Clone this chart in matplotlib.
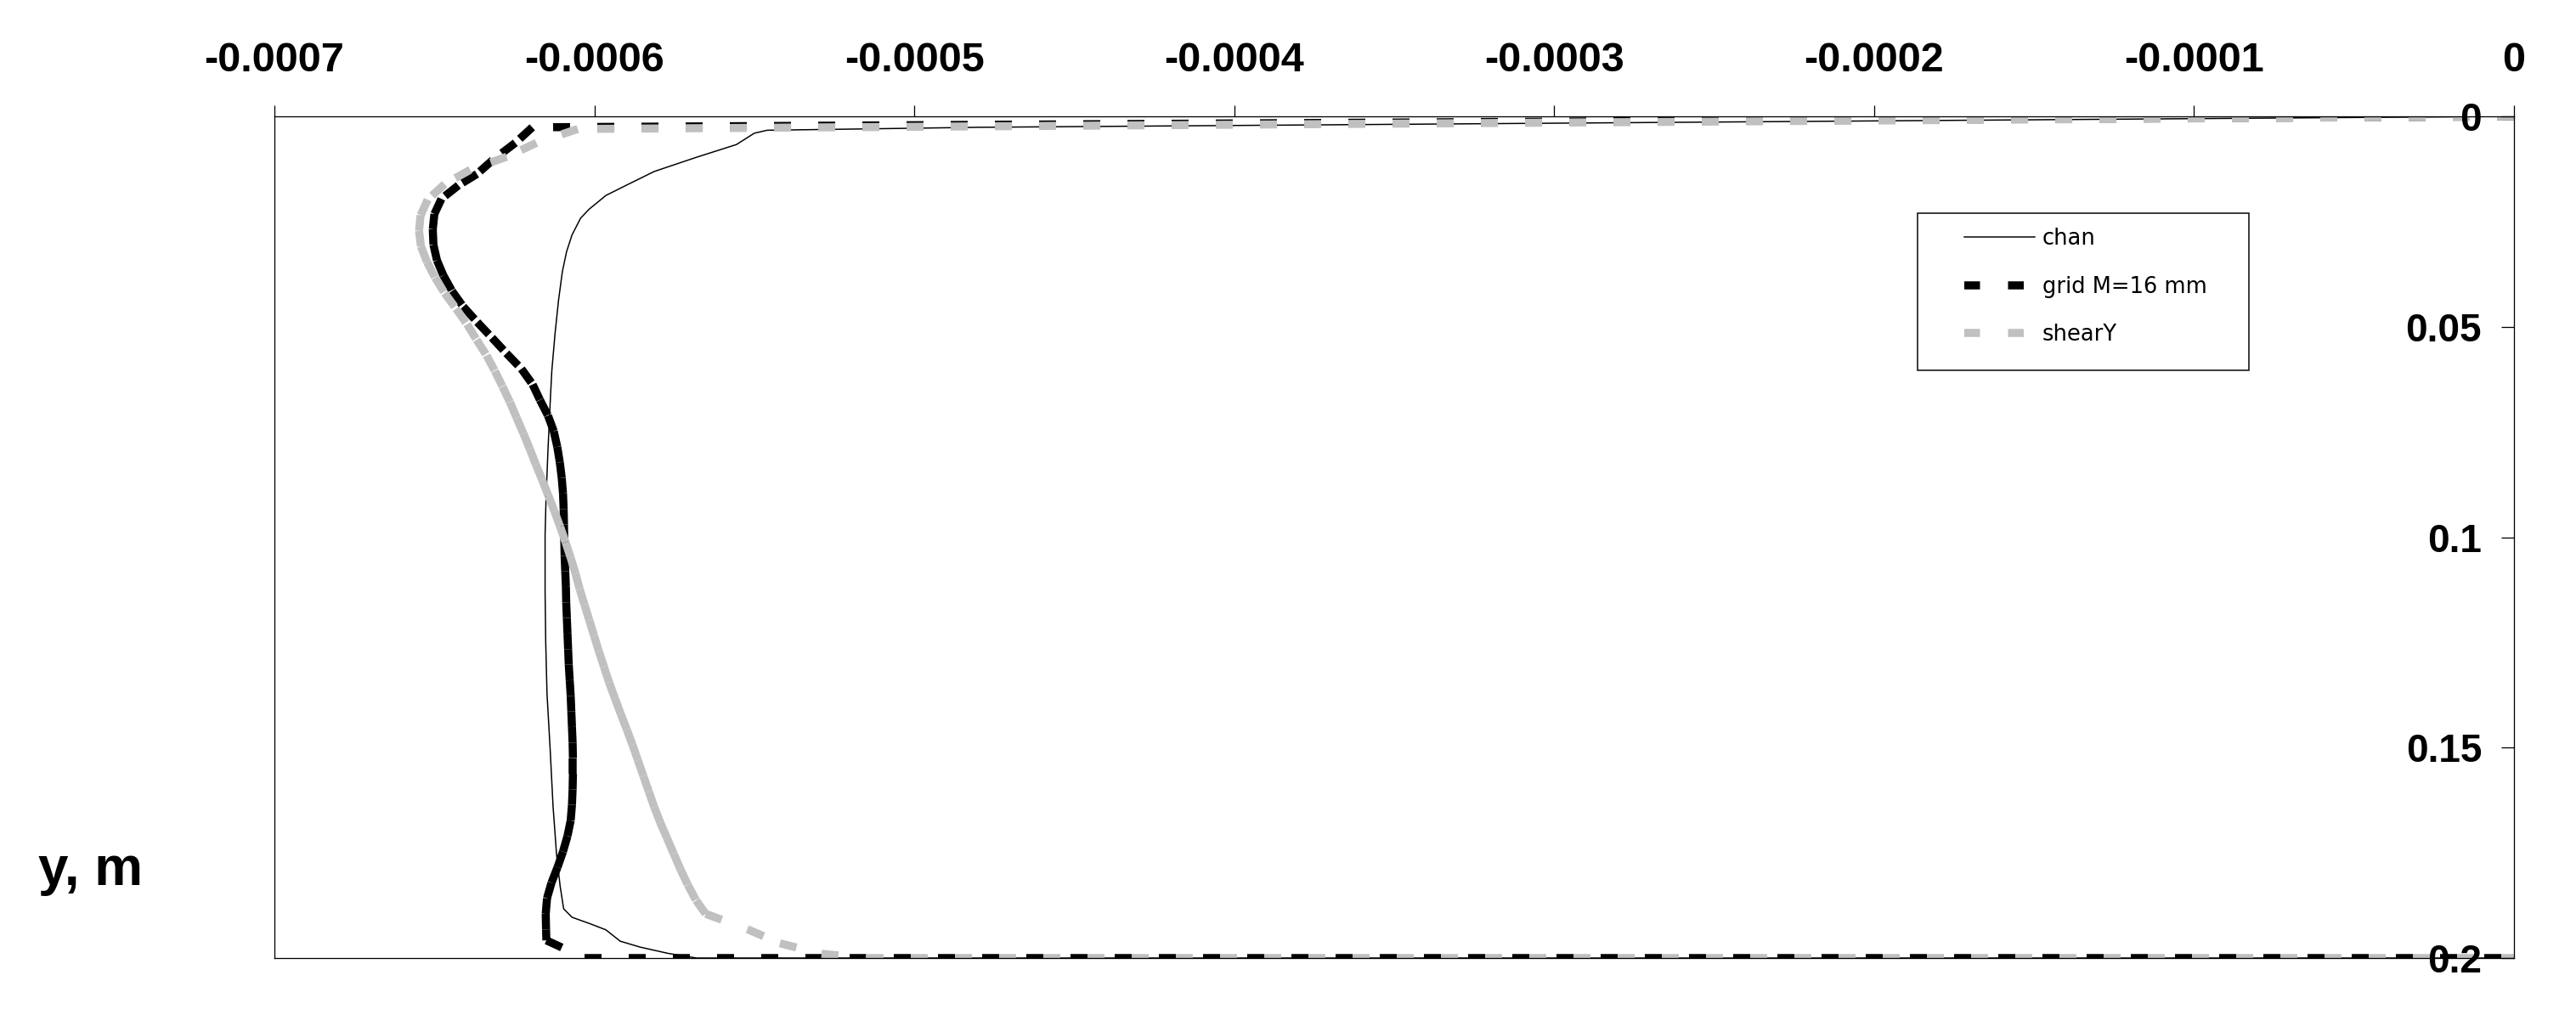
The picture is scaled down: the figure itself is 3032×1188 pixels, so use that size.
import numpy as np
import matplotlib
matplotlib.use('Agg')
import matplotlib.pyplot as plt
from matplotlib.collections import LineCollection
from matplotlib.lines import Line2D
from matplotlib.patches import Rectangle

plt.rcParams['lines.scale_dashes'] = False

# ---------------- data ----------------
series_names = ['chan', 'grid M=16 mm', 'shearY']

chan_y = [0.0, 0.0026, 0.0030, 0.0033, 0.0040, 0.0067, 0.0097, 0.0131, 0.0161,
          0.0188, 0.0221, 0.0242, 0.0282, 0.0322, 0.0369, 0.0437, 0.0517, 0.0605,
          0.0679, 0.0793, 0.0908, 0.0995, 0.1130, 0.1250, 0.1372, 0.1506, 0.1641,
          0.1755, 0.1829, 0.1883, 0.1903, 0.1920, 0.1933, 0.1960, 0.1974, 0.1989,
          0.2000, 0.2000]
chan_x = [0.0, -0.000480, -0.000517, -0.000546, -0.000550, -0.0005556, -0.000568,
          -0.0005813, -0.0005893, -0.0005964, -0.0006017, -0.0006043, -0.000607,
          -0.0006087, -0.000610, -0.0006112, -0.0006123, -0.0006133, -0.0006138,
          -0.0006145, -0.0006151, -0.0006154, -0.0006154, -0.0006152, -0.0006148,
          -0.0006138, -0.0006129, -0.0006118, -0.0006107, -0.0006096, -0.000607,
          -0.0006008, -0.0005964, -0.0005919, -0.0005857, -0.0005769, -0.000568, 0.0]

grid_y = [0.0, 0.0026, 0.0063, 0.0104, 0.0137, 0.0164, 0.0196, 0.0232, 0.0268,
          0.0305, 0.0342, 0.0378, 0.0415, 0.0452, 0.0489, 0.0526, 0.0563, 0.0600,
          0.0637, 0.0674, 0.0711, 0.0748, 0.0785, 0.0822, 0.0859, 0.0896, 0.0933,
          0.0970, 0.1007, 0.1044, 0.1081, 0.1118, 0.1155, 0.1192, 0.1229, 0.1266,
          0.1303, 0.1340, 0.1377, 0.1414, 0.1451, 0.1488, 0.1525, 0.1562, 0.1599,
          0.1636, 0.1673, 0.1710, 0.1747, 0.1784, 0.1821, 0.1858, 0.1895, 0.1932,
          0.1958, 0.2000, 0.2000]
grid_x = [0.0, -0.0006194, -0.0006247, -0.0006318, -0.0006367, -0.0006425,
          -0.0006478, -0.0006500, -0.0006505, -0.0006503, -0.0006492, -0.0006472,
          -0.0006445, -0.0006410, -0.0006366, -0.0006320, -0.0006275, -0.0006228,
          -0.0006193, -0.0006170, -0.0006145, -0.0006127, -0.0006116, -0.0006108,
          -0.0006102, -0.0006098, -0.0006096, -0.0006095, -0.0006094, -0.0006093,
          -0.0006091, -0.0006089, -0.0006088, -0.0006086, -0.0006084, -0.0006082,
          -0.0006080, -0.0006077, -0.0006074, -0.0006072, -0.0006070, -0.0006068,
          -0.0006067, -0.0006067, -0.0006068, -0.0006070, -0.0006074, -0.0006084,
          -0.0006098, -0.0006115, -0.0006134, -0.0006148, -0.0006152, -0.0006151,
          -0.0006150, -0.0006030, 0.0]

shear_y = [0.0, 0.0030, 0.0063, 0.0096, 0.0127, 0.0161, 0.0198, 0.0235, 0.0272,
           0.0309, 0.0346, 0.0383, 0.0420, 0.0457, 0.0494, 0.0531, 0.0568, 0.0605,
           0.0642, 0.0679, 0.0716, 0.0753, 0.0790, 0.0827, 0.0864, 0.0901, 0.0938,
           0.0975, 0.1012, 0.1049, 0.1086, 0.1123, 0.1160, 0.1197, 0.1234, 0.1271,
           0.1308, 0.1345, 0.1382, 0.1419, 0.1456, 0.1493, 0.1530, 0.1567, 0.1604,
           0.1641, 0.1678, 0.1715, 0.1752, 0.1789, 0.1826, 0.1863, 0.1895, 0.1932,
           0.1965, 0.1990, 0.2000, 0.2000]
shear_x = [0.0, -0.0006052, -0.0006181, -0.0006274, -0.0006388, -0.0006468,
           -0.0006521, -0.0006543, -0.0006548, -0.0006542, -0.0006523, -0.0006498,
           -0.0006468, -0.0006432, -0.0006398, -0.0006368, -0.0006337, -0.0006311,
           -0.0006287, -0.0006264, -0.0006243, -0.0006222, -0.0006202, -0.0006183,
           -0.0006163, -0.0006144, -0.0006125, -0.0006107, -0.0006090, -0.0006074,
           -0.0006059, -0.0006046, -0.0006031, -0.0006016, -0.0006001, -0.0005986,
           -0.0005970, -0.0005954, -0.0005936, -0.0005918, -0.0005899, -0.0005881,
           -0.0005864, -0.0005847, -0.0005830, -0.0005813, -0.0005794, -0.0005773,
           -0.0005752, -0.0005731, -0.0005708, -0.0005682, -0.0005652, -0.0005520,
           -0.0005420, -0.0005290, -0.0005150, 0.0]

x_ticks = [-0.0007, -0.0006, -0.0005, -0.0004, -0.0003, -0.0002, -0.0001, 0.0]
x_tick_labels = ['-0.0007', '-0.0006', '-0.0005', '-0.0004', '-0.0003', '-0.0002', '-0.0001', '0']
y_ticks = [0.0, 0.05, 0.1, 0.15, 0.2]
y_tick_labels = ['0', '0.05', '0.1', '0.15', '0.2']
y_axis_title = 'y, m'

# ---------------- figure ----------------
W, H, DPI = 3032, 1188, 100
PX = 72.0 / DPI  # points per pixel

fig = plt.figure(figsize=(W / DPI, H / DPI), dpi=DPI, facecolor='white')
ax = fig.add_axes([323 / W, 1 - 1128 / H, (2959 - 323) / W, (1128 - 137) / H])
ax.set_facecolor('white')
ax.set_xlim(-0.0007, 0.0)
ax.set_ylim(0.2, 0.0)

THICK = 9.5 * PX
DASH = (0, (20 * PX, 32 * PX))
GREY = '#C0C0C0'

ax.plot(chan_x, chan_y, color='black', lw=1.5 * PX, zorder=2.0)


def dashed_per_segment(xs, ys, color, z):
    pts = np.column_stack([xs, ys])
    segs = np.stack([pts[:-1], pts[1:]], axis=1)
    lc = LineCollection(segs, colors=color, linewidths=THICK, linestyles=[DASH],
                        capstyle='butt', zorder=z)
    ax.add_collection(lc)


dashed_per_segment(grid_x, grid_y, 'black', 2.1)
dashed_per_segment(shear_x, shear_y, GREY, 2.2)

# spines
for s in ax.spines.values():
    s.set_linewidth(1.3 * PX)
    s.set_color('black')
    s.set_zorder(2.4)

# x axis on top
ax.xaxis.tick_top()
ax.set_xticks(x_ticks)
ax.set_xticklabels(x_tick_labels, fontsize=35, fontweight='bold', fontfamily='Liberation Sans')
ax.tick_params(axis='x', which='major', direction='out', length=13 * PX, width=1.3 * PX,
               pad=21.5, top=True, bottom=False, labeltop=True, labelbottom=False)

# y axis at right (x = 0), labels placed inside
ax.yaxis.tick_right()
ax.set_yticks(y_ticks)
ax.set_yticklabels(y_tick_labels, fontsize=33, fontweight='bold', fontfamily='Liberation Sans')
ax.tick_params(axis='y', which='major', direction='in', length=15 * PX, width=1.3 * PX,
               pad=-38 * PX, right=True, left=False, labelright=True, labelleft=False)
for lab in ax.get_yticklabels():
    lab.set_horizontalalignment('right')
ax.xaxis.set_zorder(5)
ax.yaxis.set_zorder(5)

# y-axis title
fig.text(45 / W, 1 - 1042 / H, y_axis_title, fontsize=46, fontweight='bold',
         fontfamily='Liberation Sans', ha='left', va='baseline')

# legend frame + legend
fig.add_artist(Rectangle((2257 / W, 1 - 436 / H), (2647 - 2257) / W, (436 - 251) / H,
                         transform=fig.transFigure, facecolor='white', edgecolor='black',
                         linewidth=1.5 * PX, zorder=4))
handles = [
    Line2D([], [], color='black', lw=1.5 * PX),
    Line2D([], [], color='black', lw=THICK, linestyle=(0, (18.5 * PX, 33 * PX)),
           dash_capstyle='butt'),
    Line2D([], [], color=GREY, lw=THICK, linestyle=(0, (18.5 * PX, 33 * PX)),
           dash_capstyle='butt'),
]
leg = fig.legend(handles, series_names, loc='upper left',
                 bbox_to_anchor=(2312 / W, 1 - 268 / H), bbox_transform=fig.transFigure,
                 frameon=False, borderpad=0, borderaxespad=0, handlelength=3.23,
                 handletextpad=0.35, labelspacing=1.19,
                 prop={'family': 'DejaVu Sans', 'size': 18.5})
leg.set_zorder(5)

fig.savefig('out.png', dpi=DPI, facecolor='white')
